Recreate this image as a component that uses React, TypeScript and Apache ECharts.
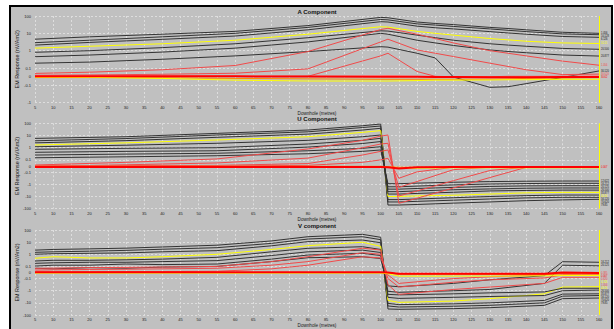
import React, { useEffect, useRef } from 'react';
import * as echarts from 'echarts';

// ---- stations (downhole depth, metres) ----
const P1X = [5, 20, 40, 60, 80, 100, 102, 110, 115, 120, 130, 135, 140, 150, 160];
const P2X = [5, 30, 55, 80, 95, 100, 102, 105, 110, 120, 130, 140, 150, 160];
const P3X = [5, 10, 20, 30, 40, 55, 70, 80, 95, 100, 102, 105, 120, 130, 145, 150, 160];

// ---- A component (nV/Am2) ----
const A_B1 = [4.6, 6.3, 8.9, 13, 28, 83, 79, 45, 37, 32, 22, 19, 16, 11.5, 10];
const A_B2 = [2.9, 4, 6.3, 10, 22, 63, 60, 35, 30, 25, 18, 15, 12.6, 9.3, 8.3];
const A_B3 = [2.1, 3, 4.5, 7, 16, 47, 45, 26, 21, 18, 12.6, 10.5, 8.9, 6.6, 5.9];
const A_Y1 = [1.4, 1.8, 2.5, 4, 8.9, 24, 23, 13, 10, 7.9, 5, 4.2, 3.5, 2.8, 2.6];
const A_B4 = [0.81, 1, 1.5, 2.5, 5.6, 14, 13.5, 7.9, 5.6, 4, 2.5, 2.1, 1.8, 1.35, 1.2];
const A_B5 = [0.45, 0.56, 0.83, 1.4, 3.2, 10, 8.9, 4, 2.8, 2, 1.1, 0.9, 0.76, 0.56, 0.49];
const A_B6 = [0.19, 0.22, 0.32, 0.5, 0.89, 1.7, 1.6, 0.71, 0.38, -0.004, -0.13, -0.12, -0.08, -0.008, 0.066];
const A_R1 = [0.038, 0.052, 0.08, 0.14, 0.89, 16.6, 19.5, 8.9, 5, 2.8, 1, 0.71, 0.5, 0.25, 0.145];
const A_R2 = [0.016, 0.02, 0.028, 0.04, 0.09, 3.2, 4.6, 1.1, 0.71, 0.46, 0.19, 0.123, 0.08, 0.024, 0.03];
const A_R3 = [0, 0, 0, 0.004, 0.004, 0.5, 0.71, 0.06, 0.004, 0, 0, 0.004, 0.004, 0.004, 0.004];
const A_C1 = [0.006, 0.006, 0.004, 0.004, 0.002, 0, 0, -0.002, -0.004, -0.004, -0.006, -0.006, -0.006, -0.004, -0.004];
const A_C2 = [-0.01, -0.01, -0.012, -0.02, -0.025, -0.03, -0.03, -0.03, -0.03, -0.03, -0.028, -0.025, -0.02, -0.015, -0.01];
const A_C3 = [-0.004, -0.008, -0.02, -0.04, -0.05, -0.05, -0.05, -0.045, -0.04, -0.04, -0.038, -0.035, -0.035, -0.03, -0.03];
const A_C4 = [0.01, 0.01, 0.008, 0.006, 0.004, 0.01, 0.012, 0.004, 0, -0.01, -0.012, -0.01, -0.004, 0.004, 0.01];

// ---- U component ----
const U_L1 = [5.8, 7.9, 15, 28, 63, 87, -50, -50, -45, -35, -28, -22, -19, -17];
const U_L2 = [3.7, 5.6, 11, 20, 45, 60, -28, -28, -25, -20, -16, -13, -11.7, -11.7];
const U_L3 = [2.5, 3.8, 7.1, 13, 28, 39, -18, -18, -16, -12.6, -10, -8.5, -7.6, -7.6];
const U_Y = [1.66, 2.5, 4.3, 7.9, 18, 25, -10, -10, -8.9, -7.9, -6.3, -5, -4.6, -4.6];
const U_L4 = [1.2, 1.6, 2.3, 4, 7.9, 11, -6.3, -6.3, -5.6, -4.5, -3.5, -3.2, -3, -3];
const U_L5 = [0.74, 0.89, 1.0, 2.0, 4.0, 5.9, -4, -4, -3.5, -2.8, -2.4, -2.1, -2, -2];
const U_L6 = [0.42, 0.5, 0.56, 1.12, 2.2, 3.2, -2.5, -2.5, -2.2, -1.8, -1.5, -1.35, -1.3, -1.3];
const U_L7 = [0.25, 0.3, 0.35, 0.56, 0.89, 1.2, -1.6, -1.6, -1.4, -1.12, -0.95, -0.87, -0.83, -0.83];
const U_L8 = [0.15, 0.18, 0.22, 0.32, 0.5, 0.65, -0.89, -0.89, -0.8, -0.68, -0.6, -0.56, -0.54, -0.54];
const U_RA = [0.016, 0.06, 0.12, 0.79, 4, 8.9, 11, -36, -13.8, -2, -0.28, -0.022, -0.02, -0.02];
const U_RB = [-0.01, 0.02, 0.05, 0.14, 1.0, 2.0, 2.3, -9.1, -3.5, -0.5, -0.074, -0.02, -0.02, -0.02];
const U_RC = [0, 0.004, 0.01, 0.04, 0.25, 0.5, 0.65, -1.78, -0.59, -0.06, -0.02, -0.02, -0.02, -0.02];
const U_RD = [0, 0, 0, 0.01, 0.06, 0.1, 0.135, -0.32, -0.096, -0.02, -0.02, -0.02, -0.02, -0.02];
const U_Z1 = [-0.016, -0.016, -0.016, -0.016, -0.016, -0.016, -0.02, -0.04, -0.02, -0.016, -0.016, -0.016, -0.016, -0.016];
const U_Z2 = [-0.01, -0.01, -0.01, -0.01, -0.01, -0.01, -0.02, -0.04, -0.035, -0.03, -0.03, -0.03, -0.03, -0.03];
const U_Z3 = [-0.005, -0.005, -0.005, -0.005, -0.005, -0.005, -0.01, -0.02, -0.02, -0.02, -0.02, -0.02, -0.02, -0.02];

// ---- V component ----
const V_L1 = [2.2, 2.5, 2.8, 3.2, 4, 5.6, 12.6, 28, 44, 25, -32, -34, -30, -25, -16, -4.5, -4];
const V_L2 = [1.45, 1.6, 1.8, 2.1, 2.6, 3.5, 7.9, 18, 28, 16, -18, -22, -19, -16, -10, -2.8, -2.5];
const V_L3 = [1, 1.12, 1.2, 1.3, 1.6, 2, 5, 11, 15, 8.9, -11, -14, -12, -10, -6.3, -1.9, -1.8];
const V_Y = [0.47, 0.63, 0.5, 0.5, 0.63, 1, 2.5, 5.1, 9.8, 4.5, -6.3, -9.1, -7.1, -4.5, -1.8, -0.5, -0.47];
const V_L4 = [0.28, 0.32, 0.32, 0.35, 0.4, 0.56, 1.6, 3.1, 4.2, 2.5, -3.5, -4.3, -3.5, -3, -2.5, -1, -0.89];
const V_L5 = [0.18, 0.2, 0.22, 0.22, 0.25, 0.3, 0.79, 1.6, 2.2, 1.4, -2, -2.2, -1.8, -1.5, -1.26, -0.63, -0.63];
const V_L6 = [0.107, 0.126, 0.126, 0.158, 0.141, 0.158, 0.4, 0.87, 1.2, 0.79, -1.12, -1.35, -1, -0.79, -0.25, 0.126, 0.112];
const V_L7 = [0.07, 0.06, 0.08, 0.07, 0.09, 0.1, 0.25, 0.52, 0.63, 0.45, -0.4, -0.47, -0.25, -0.126, -0.052, 0.245, 0.22];
const V_R1 = [0.068, 0.072, 0.08, 0.084, 0.09, 0.1, 0.25, 0.63, 3.16, 2.24, -0.316, -2, -0.79, -0.5, -0.25, -0.08, -0.08];
const V_R2 = [0.04, 0.044, 0.05, 0.054, 0.06, 0.07, 0.126, 0.25, 1.35, 1, -0.1, -0.5, -0.2, -0.126, -0.09, -0.04, -0.04];
const V_R3 = [0.01, 0.01, 0.012, 0.016, 0.016, 0.02, 0.06, 0.126, 0.63, 0.5, -0.04, -0.25, -0.1, -0.07, -0.04, -0.01, -0.01];
const V_Z1 = [0.006, 0.006, 0.006, 0.006, 0.006, 0.006, 0.006, 0.006, 0.006, 0.006, 0, -0.02, -0.02, -0.02, -0.02, 0, -0.01];
const V_Z2 = [-0.002, -0.002, -0.002, -0.002, -0.002, -0.002, -0.002, -0.002, -0.002, -0.002, -0.01, -0.03, -0.03, -0.03, -0.03, -0.025, -0.025];
const V_Z3 = [-0.01, -0.01, -0.01, -0.01, -0.01, -0.01, -0.01, -0.01, -0.01, -0.01, -0.02, -0.06, -0.06, -0.06, -0.055, -0.05, -0.05];

// ---- axis ticks and texts ----
const Y_TICKS_A = [-1, -0.1, 0, 0.1, 1, 10, 100];
const Y_TICKS_UV = [-100, -10, -1, -0.1, 0, 0.1, 1, 10, 100];
const X_MIN = 5;
const X_MAX = 160;
const X_STEP = 5;
const MARK_X = 160;
const TITLES = ['A Component', 'U Component', 'V component'];
const X_NAME = 'Downhole (metres)';
const Y_NAME = 'EM Response (nV/Am2)';

const C = {
  black: '#333333',
  yellow: '#ffff00',
  red: '#f04a4a',
  bright: '#ff0000',
  orange: '#ff8a00',
  pink: '#ff8888',
};

// symmetric log transform
const tf = (v: number) => {
  const a = Math.abs(v);
  if (a < 0.1) return v * 5;
  return Math.sign(v) * (Math.log10(a) + 1.5);
};

type S = { vals: number[]; color: string; width?: number; label?: string };

const PANEL1: S[] = [
  { vals: A_B1, color: C.black, label: '1.056' },
  { vals: A_B2, color: C.black, label: '10.128' },
  { vals: A_B3, color: C.black, label: '6.126' },
  { vals: A_Y1, color: C.yellow, label: '10.15' },
  { vals: A_B4, color: C.black, label: '20.500' },
  { vals: A_B5, color: C.black, label: '20.877' },
  { vals: A_B6, color: C.black, label: '30.120' },
  { vals: A_R1, color: C.red, label: '1.056' },
  { vals: A_R2, color: C.red, label: '30.620' },
  { vals: A_R3, color: C.red },
  { vals: A_C2, color: C.orange },
  { vals: A_C3, color: C.yellow },
  { vals: A_C4, color: C.pink },
  { vals: A_C1, color: C.bright, width: 2, label: '30.62' },
];

const PANEL2: S[] = [
  { vals: U_L1, color: C.black, label: '79.85' },
  { vals: U_L2, color: C.black, label: '70.620' },
  { vals: U_L3, color: C.black, label: '56.120' },
  { vals: U_Y, color: C.yellow, label: '44.56' },
  { vals: U_L4, color: C.black, label: '35.877' },
  { vals: U_L5, color: C.black, label: '26.500' },
  { vals: U_L6, color: C.black, label: '20.125' },
  { vals: U_L7, color: C.black, label: '16.212' },
  { vals: U_L8, color: C.black, label: '12.622' },
  { vals: U_RA, color: C.red },
  { vals: U_RB, color: C.red },
  { vals: U_RC, color: C.red },
  { vals: U_RD, color: C.red },
  { vals: U_Z2, color: C.yellow },
  { vals: U_Z3, color: C.orange },
  { vals: U_Z1, color: C.bright, width: 2, label: '0.007' },
];

const PANEL3: S[] = [
  { vals: V_L1, color: C.black, label: '79.85' },
  { vals: V_L2, color: C.black, label: '70.620' },
  { vals: V_L3, color: C.black, label: '56.120' },
  { vals: V_Y, color: C.yellow, label: '44.56' },
  { vals: V_L4, color: C.black, label: '35.877' },
  { vals: V_L5, color: C.black, label: '26.500' },
  { vals: V_L6, color: C.black, label: '20.125' },
  { vals: V_L7, color: C.black, label: '16.212' },
  { vals: V_R1, color: C.red, label: '1.056' },
  { vals: V_R2, color: C.red, label: '0.620' },
  { vals: V_R3, color: C.red, label: '0.385' },
  { vals: V_Z2, color: C.orange },
  { vals: V_Z3, color: C.yellow, label: '0.126' },
  { vals: V_Z1, color: C.bright, width: 2, label: '0.007' },
];

const GRIDS = [
  { left: 35, right: 15, top: 16, height: 86.7 },
  { left: 35, right: 15, top: 123.3, height: 85.4 },
  { left: 35, right: 15, top: 230, height: 85 },
];

const FONT = 'Arial';

function buildSeries(panel: number, xs: number[], list: S[]) {
  return list.map((s, k) => ({
    type: 'line',
    xAxisIndex: panel,
    yAxisIndex: panel,
    data: xs.map((x, i) => [x, tf(s.vals[i])]),
    showSymbol: false,
    symbol: 'none',
    silent: true,
    lineStyle: { color: s.color, width: s.width ?? 1 },
    itemStyle: { color: s.color },
    labelLayout: { moveOverlap: 'shiftY' },
    endLabel: s.label
      ? {
          show: true,
          formatter: s.label,
          fontSize: 2.6,
          lineHeight: 2.8,
          fontFamily: FONT,
          color: s.color === C.black ? '#111111' : s.color,
          distance: 2,
        }
      : { show: false },
    markLine:
      k === 0
        ? {
            silent: true,
            symbol: ['none', 'none'],
            label: { show: false },
            lineStyle: { color: C.yellow, width: 1, type: 'solid' },
            data: [{ xAxis: MARK_X }],
          }
        : undefined,
  }));
}

function yAxis(panel: number, ticks: number[], min: number, max: number) {
  const map: Record<string, string> = {};
  ticks.forEach((t) => {
    map[tf(t).toFixed(2)] = String(t);
  });
  const custom = ticks.map((t) => tf(t));
  return {
    type: 'value',
    gridIndex: panel,
    min,
    max,
    name: Y_NAME,
    nameLocation: 'middle',
    nameGap: 15.5,
    nameMoveOverlap: false,
    nameTextStyle: { fontSize: 5.4, color: '#1a1a1a', fontFamily: FONT },
    axisLine: { show: false },
    axisTick: { show: false, customValues: custom },
    axisLabel: {
      customValues: custom,
      fontSize: 4,
      color: '#1a1a1a',
      fontFamily: FONT,
      margin: 4,
      formatter: (v: number) => map[v.toFixed(2)] ?? '',
    },
    splitLine: { show: true, lineStyle: { color: '#dedede', type: [2, 2], width: 1 } },
  };
}

function xAxis(panel: number) {
  return {
    type: 'value',
    gridIndex: panel,
    min: X_MIN,
    max: X_MAX,
    interval: X_STEP,
    name: X_NAME,
    nameLocation: 'middle',
    nameGap: 8,
    nameMoveOverlap: false,
    nameTextStyle: { fontSize: 4.6, color: '#1a1a1a', fontFamily: FONT },
    axisLine: { show: false },
    axisTick: { show: false },
    axisLabel: { fontSize: 4, color: '#1a1a1a', fontFamily: FONT, margin: 2.5 },
    splitLine: { show: true, lineStyle: { color: '#dedede', type: [2, 2], width: 1 } },
  };
}

export default function App() {
  const ref = useRef<HTMLDivElement>(null);
  useEffect(() => {
    if (!ref.current) return;
    const chart = echarts.init(ref.current, undefined, { renderer: 'svg' });
    const titleY = [12, 119.3, 225.7];
    chart.setOption({
      animation: false,
      backgroundColor: 'transparent',
      grid: GRIDS,
      xAxis: [xAxis(0), xAxis(1), xAxis(2)],
      yAxis: [yAxis(0, Y_TICKS_A, -1.5, 3.5), yAxis(1, Y_TICKS_UV, -3.5, 3.5), yAxis(2, Y_TICKS_UV, -3.5, 3.5)],
      graphic: TITLES.map((t, i) => ({
        type: 'text',
        x: 317,
        y: titleY[i],
        silent: true,
        style: {
          text: t,
          fill: '#111',
          font: 'bold 6px Arial',
          textAlign: 'center',
          textVerticalAlign: 'middle',
        },
      })),
      series: [
        ...buildSeries(0, P1X, PANEL1),
        ...buildSeries(1, P2X, PANEL2),
        ...buildSeries(2, P3X, PANEL3),
      ],
    });
    return () => chart.dispose();
  }, []);
  return (
    <div style={{ position: 'fixed', left: 0, top: 0, width: 614, height: 329, background: '#ffffff', overflow: 'hidden' }}>
      <div
        style={{
          position: 'absolute',
          left: 9,
          top: 5,
          width: 600,
          height: 340,
          border: '2px solid #000',
          background: '#c0c0c0',
        }}
      />
      <div ref={ref} style={{ position: 'absolute', left: 0, top: 0, width: 614, height: 329 }} />
    </div>
  );
}
